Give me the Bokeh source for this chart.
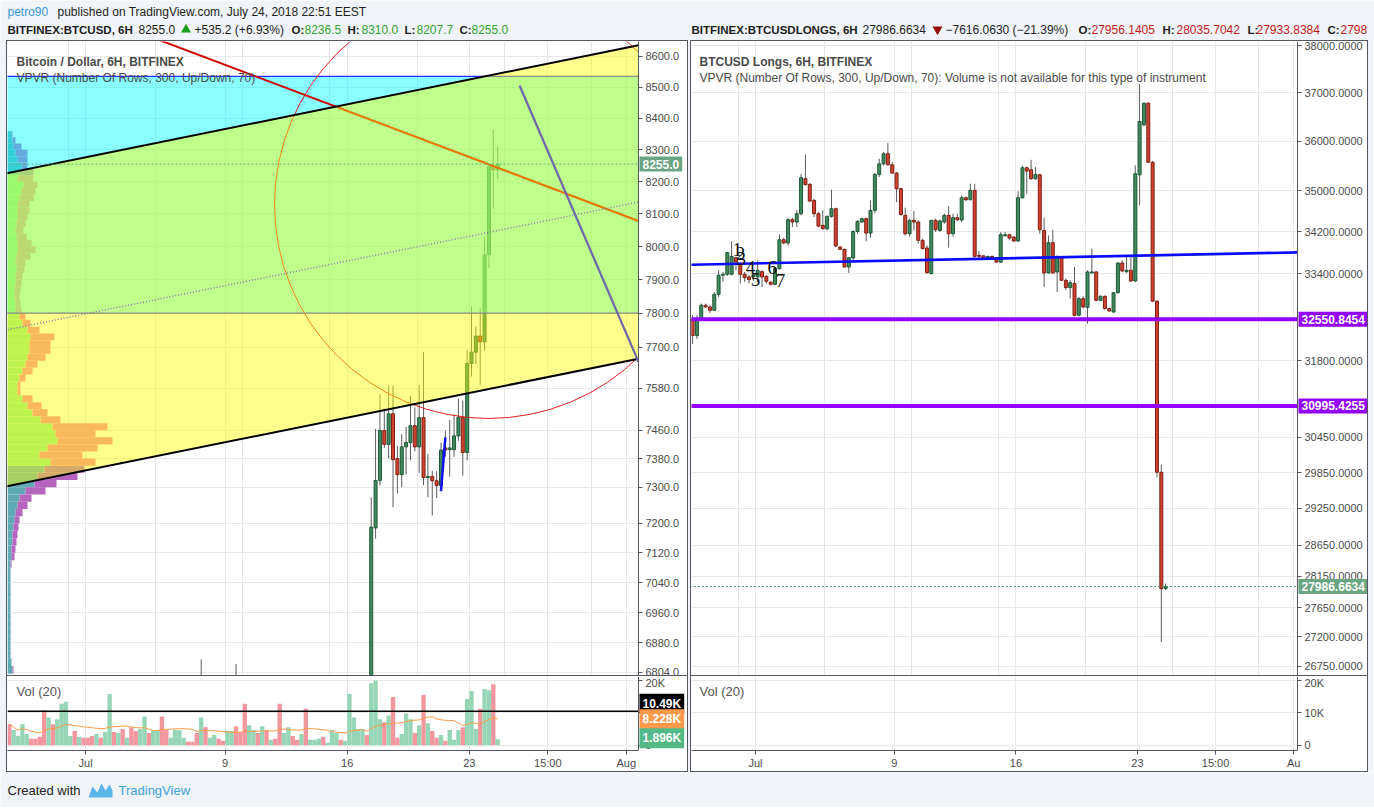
import numpy as np
import pandas as pd
from bokeh.plotting import figure
from bokeh.models import (Range1d, FixedTicker, NumeralTickFormatter, Grid, Label,
                          Spacer, ColumnDataSource)
from bokeh.layouts import row, column
from bokeh.embed import file_html
from bokeh.resources import INLINE
from bokeh.core.properties import value

# ------------------------------------------------------------------ data
time_tick_days = [1, 9, 16, 23, 27.5, 32]
left_time_labels = ["Jul", "9", "16", "23", "15:00", "Aug"]
right_time_labels = ["Jul", "9", "16", "23", "15:00", "Au"]

left_price_ticks = [6804, 6880, 6960, 7040, 7120, 7200, 7300, 7380, 7460, 7580,
                    7700, 7800, 7900, 8000, 8100, 8200, 8300, 8400, 8500, 8600]
right_price_ticks = [26750, 27200, 27650, 28150, 28650, 29250, 29850, 30450,
                     31800, 33400, 34200, 35000, 36000, 37000, 38000]
vol_ticks = [0, 10000, 20000]

# BITFINEX:BTCUSD 6H candles that reach into the visible price range (day 1 = Jul 1)
btc_days = [7.625, 9.625] + [17.375 + 0.25 * i for i in range(30)]
btc_open = [6700, 6760, 6760, 7188, 7319, 7459, 7420, 7507, 7380, 7335, 7413, 7425,
            7473, 7413, 7496, 7327, 7330, 7318, 7305, 7410, 7405, 7405, 7444, 7497,
            7397, 7652, 7685, 7732, 7715, 7975, 8248, 8236.5]
btc_high = [6837, 6825, 7272, 7464, 7562, 7522, 7588, 7588, 7416, 7449, 7470, 7559,
            7525, 7590, 7685, 7393, 7345, 7345, 7425, 7459, 7489, 7505, 7550, 7545,
            7690, 7820, 7760, 7815, 8030, 8250, 8364, 8310.0]
btc_low = [6650, 6690, 6750, 7159, 7305, 7410, 7380, 7245, 7283, 7300, 7335, 7375,
           7400, 7340, 7306, 7272, 7222, 7270, 7295, 7385, 7330, 7385, 7430, 7332,
           7375, 7614, 7650, 7590, 7690, 7935, 8116, 8207.7]
btc_close = [6760, 6720, 7190, 7319, 7459, 7420, 7507, 7377, 7335, 7413, 7425, 7473,
             7413, 7496, 7327, 7330, 7318, 7305, 7404, 7404, 7410, 7444, 7497, 7397,
             7652, 7685, 7732, 7715, 7975, 8248, 8236.5, 8255.0]

# Volume (thousands) of every 6H bar, first bar Jun 26 21:00, and its direction
vol_first_day = -3.375
vol_k = [6.5, 4.7, 2.9, 6.5, 3.5, 2.0, 2.0, 2.6, 10.7, 8.6, 6.5, 8.0, 12.8, 13.4, 2.9,
         4.4, 2.6, 2.3, 2.3, 2.9, 3.5, 2.3, 4.1, 15.8, 4.1, 3.8, 5.0, 2.3, 5.6, 4.4,
         5.0, 8.9, 3.8, 4.4, 4.7, 8.9, 4.7, 2.3, 4.7, 4.7, 2.3, 1.1, 1.1, 3.8, 8.6,
         5.6, 2.3, 3.2, 2.0, 1.4, 4.4, 4.4, 5.9, 4.1, 12.8, 6.2, 4.7, 3.8, 5.9, 4.7,
         1.7, 2.0, 12.8, 3.8, 5.6, 2.9, 1.7, 3.5, 11.3, 1.7, 1.7, 2.0, 2.6, 0.8, 4.7,
         3.8, 1.7, 1.4, 15.8, 8.6, 5.0, 5.0, 3.2, 19.1, 20.0, 8.0, 7.1, 9.2, 14.9, 2.3,
         3.5, 9.8, 8.0, 3.8, 6.2, 15.5, 6.8, 4.4, 2.3, 3.2, 1.4, 4.7, 1.7, 4.7, 5.6,
         14.3, 16.7, 5.0, 11.3, 17.3, 17.0, 18.8, 1.896]
vol_up = [0, 1, 1, 1, 1, 0, 0, 0, 0, 1, 0, 1, 1, 1, 1, 0, 1, 0, 0, 0, 1, 0, 1, 1, 0,
          1, 0, 1, 0, 0, 1, 1, 0, 1, 1, 0, 0, 1, 1, 1, 1, 0, 0, 0, 1, 0, 1, 1, 0, 0,
          1, 1, 0, 0, 0, 1, 1, 0, 1, 0, 1, 0, 0, 1, 1, 0, 0, 1, 0, 1, 1, 1, 0, 1, 1,
          1, 0, 1, 1, 1, 1, 1, 0, 1, 1, 1, 0, 1, 0, 0, 1, 1, 1, 0, 1, 0, 1, 0, 0, 1,
          0, 1, 1, 1, 0, 1, 1, 1, 0, 1, 1, 0, 1]

# Visible-range volume profile: 20 USD rows, up / down volume (relative units)
vpvr_row_low = list(range(6800, 8360, 20))
vpvr_up = [5, 4, 3, 3, 3, 3, 3, 3, 3, 3, 3, 3, 3, 3, 3, 4, 4, 5, 5, 6, 7, 8, 10, 12,
           18, 27, 30, 37, 43, 32, 40, 50, 48, 45, 33, 25, 20, 15, 10, 10, 12, 15, 18,
           20, 22, 22, 23, 20, 15, 12, 8, 8, 7, 7, 8, 8, 9, 8, 9, 10, 10, 9, 8, 9, 10,
           10, 10, 12, 14, 16, 10, 12, 14, 10, 8, 6, 5, 4]
vpvr_down = [1, 0, 0, 0, 0, 0, 0, 0, 0, 0, 0, 0, 0, 0, 1, 3, 4, 4, 5, 5, 5, 7, 10, 12,
             20, 22, 40, 40, 45, 43, 50, 55, 40, 55, 20, 15, 14, 10, 3, 3, 6, 10, 12,
             18, 21, 21, 24, 12, 8, 6, 6, 5, 5, 6, 6, 7, 8, 10, 14, 18, 14, 10, 8, 9,
             10, 12, 12, 14, 14, 14, 16, 14, 6, 10, 12, 8, 3, 1]
vpvr_value_area = (7360, 8220)

# BITFINEX:BTCUSDLONGS 6H candles, first bar Jun 27 09:00
longs_first_day = -2.625
longs_open = [32563, 32250, 32532, 32810, 32779, 32717, 33014, 33371, 33390, 33390,
              33705, 33590, 33390, 33340, 33340, 33340, 33440, 33352, 33240, 33202,
              33496, 34049, 33986, 34436, 34391, 34553, 35243, 35130, 34814, 34553,
              34326, 34261, 34501, 34651, 33908, 33864, 33527, 33700, 34209, 34391,
              34456, 34177, 34619, 35329, 35541, 35744, 35521, 35356, 35045, 34520,
              34164, 34423, 34391, 34037, 33890, 33402, 34423, 34228, 34391, 34521,
              34164, 34475, 34430, 34866, 34827, 35012, 33749, 33740, 33692, 33730,
              33705, 33621, 34125, 34145, 34100, 34024, 34866, 35462, 35422, 35243,
              35322, 34228, 33415, 33992, 33434, 33705, 33276, 33139, 33215, 32625,
              32933, 32771, 33415, 33434, 32902, 32977, 32748, 32686, 33045, 33603,
              33440, 33465, 33264, 35321, 36334, 36781, 35574, 32886, 29855, 27956.1405]
longs_high = [32630, 32625, 32841, 32841, 32810, 33058, 33465, 33434, 33813, 34017,
              33718, 33621, 33434, 33371, 33415, 33654, 33465, 33371, 33258, 33527,
              34151, 34088, 34475, 34475, 34619, 35342, 35730, 35157, 34846, 34586,
              34619, 34520, 35025, 34671, 33921, 33877, 33705, 34228, 34423, 34475,
              34475, 34814, 35356, 35642, 35778, 35960, 35575, 35375, 35065, 34671,
              34456, 34606, 34423, 34068, 33941, 34436, 34456, 34440, 34553, 34697,
              34553, 34553, 34912, 34892, 35144, 35144, 33832, 33750, 33740, 33740,
              33710, 34196, 34196, 34164, 34113, 34996, 35508, 35488, 35622, 35475,
              35342, 34475, 34132, 34241, 33749, 33730, 33308, 33276, 33527, 32964,
              32976, 33465, 33877, 33452, 32995, 32995, 32760, 33058, 33621, 33654,
              33749, 33730, 35508, 37186, 36795, 36800, 35600, 32900, 29986, 28035.7042]
longs_low = [32100, 32193, 32520, 32760, 32668, 32700, 32964, 33246, 33358, 33371,
             33465, 33215, 33246, 33215, 33265, 33246, 33152, 33215, 33180, 33183,
             33477, 33960, 33941, 34293, 34293, 34520, 35110, 34781, 34488, 34293,
             34248, 34228, 34475, 33908, 33850, 33520, 33415, 33654, 34164, 34380,
             34017, 34088, 34567, 35276, 35508, 35508, 35342, 34781, 34520, 34132,
             34113, 34228, 33973, 33877, 33402, 33390, 34196, 34200, 34358, 33896,
             34113, 34410, 34391, 34801, 34814, 33705, 33686, 33680, 33680, 33690,
             33610, 33603, 34113, 34037, 34005, 34005, 34846, 34944, 35223, 35223,
             34164, 33152, 33402, 33402, 33058, 33264, 33089, 32933, 32606, 32606,
             32748, 32470, 33402, 32890, 32890, 32730, 32690, 32668, 33026, 33434,
             33415, 33246, 33240, 34714, 36300, 35574, 32880, 29771, 27120, 27933.8384]
longs_close = [32254, 32532, 32810, 32779, 32717, 33014, 33371, 33390, 33801, 33730,
               33621, 33390, 33327, 33290, 33371, 33465, 33340, 33258, 33202, 33496,
               34049, 33986, 34436, 34391, 34553, 35263, 35124, 34801, 34553, 34313,
               34261, 34501, 34651, 33928, 33864, 33527, 33705, 34209, 34404, 34456,
               34177, 34619, 35329, 35541, 35744, 35521, 35356, 35045, 34534, 34164,
               34423, 34391, 34037, 33877, 33421, 34423, 34241, 34410, 34521, 34164,
               34475, 34436, 34866, 34827, 35012, 33730, 33730, 33692, 33730, 33705,
               33621, 34145, 34145, 34081, 34024, 34866, 35462, 35395, 35243, 35329,
               34241, 33415, 33992, 33415, 33705, 33276, 33139, 33233, 32625, 32933,
               32779, 33434, 33434, 32902, 32977, 32748, 32705, 33045, 33603, 33452,
               33465, 33264, 35342, 36402, 36781, 35574, 32886, 29855, 27952, 27986.6634]

# drawings on the BTCUSD chart: (day, price) anchors
rect_top, rect_bottom = 8535.0, 7800.0
chan_upper = [(-3.48, 8226.5), (32.64, 8636.0)]
chan_lower = [(-3.48, 7303.0), (32.64, 7665.0)]
red_line = [(5.75, 8642.6), (32.64, 8079.6)]
slate_line = [(25.88, 8505.6), (32.64, 7663.7)]
blue_short = [(21.375, 7289.0), (21.625, 7440.0)]
circle_center = (24.10, 8129.0)
circle_diameter_px = 428
btc_last = 8255.0
vol_hline = 10490.0
# drawings on the LONGS chart
longs_blue = [(-2.75, 33570.0), (32.3, 33806.0)]
longs_levels = [32550.8454, 30995.4255]
longs_last = 27986.6634
wave_text = ["1", "2", "3", "4", "5", "6", "7"]
wave_day = [-0.05, 0.14, 0.18, 0.71, 1.0, 1.96, 2.44]
wave_price = [33870, 33790, 33684, 33510, 33300, 33524, 33275]

# ------------------------------------------------------------------ style / geometry
FONT = "Liberation Sans"
BG = "#f0f3f7"
BORDER = "#54575f"
GRID = "#e8e8e8"
AX_TXT = "#4b4b4b"
UP_BODY, UP_LINE = "#3f8b5f", "#1d5636"
DN_BODY, DN_LINE = "#d2432f", "#7d1c12"
WICK = "#5c5c5c"

L_FR = (7, 638, 41, 675)      # chart area of the left price pane (page px)
R_FR = (691, 1297, 41, 675)
LX0, LX1 = -3.48, 32.70
LY0, LY1 = 6795.4, 8649.2
RX0, RX1 = -2.687, 32.22
RY0, RY1 = 26614.0, 38086.0
VY0, VY1 = -1600.0, 21200.0
L_INNER, R_INNER = 680, 676   # chart + price-axis column
LXM = LX0 + (LX1 - LX0) * L_INNER / (L_FR[1] - L_FR[0])
RXM = RX0 + (RX1 - RX0) * R_INNER / (R_FR[1] - R_FR[0])


def px2day(px, fr, x0, x1):
    return x0 + (px - fr[0]) / (fr[1] - fr[0]) * (x1 - x0)


def py2price(py, fr, y0, y1):
    return float(np.exp(np.log(y1) - (py - fr[2]) / (fr[3] - fr[2]) * (np.log(y1) - np.log(y0))))


def py2vol(py):
    return VY1 - (py - 676) / (752 - 676) * (VY1 - VY0)


def loglin(days, a, b):
    (d0, p0), (d1, p1) = a, b
    days = np.asarray(days, dtype=float)
    return np.exp(np.log(p0) + (days - d0) / (d1 - d0) * (np.log(p1) - np.log(p0)))


def style_axis(ax, size="11px"):
    ax.axis_line_color = BORDER
    ax.major_tick_line_color = BORDER
    ax.major_tick_out = 4
    ax.major_tick_in = 0
    ax.minor_tick_line_color = None
    ax.major_label_text_font = FONT
    ax.major_label_text_font_size = size
    ax.major_label_text_color = AX_TXT
    ax.major_label_standoff = 3


def cover(p, x_edge, x_max, y0, y1):
    # blank price-axis column (hides grid / drawing overflow right of the chart)
    p.quad(left=x_edge, right=x_max + 1, bottom=y0, top=y1, fill_color="white", line_color=None)


def main_fig(x0, x1, xm, y0, y1, ticks, fmt, inner_w):
    p = figure(width=inner_w, height=634, x_range=Range1d(x0, xm), y_range=Range1d(y0, y1),
               y_axis_type="log", x_axis_location=None, y_axis_location="right",
               toolbar_location=None, output_backend="svg", min_border_left=0,
               min_border_right=0, min_border_top=0, min_border_bottom=0,
               outline_line_color=None, background_fill_color="white", border_fill_color="white")
    t = FixedTicker(ticks=ticks)
    p.yaxis.ticker = t
    p.ygrid.ticker = t
    p.ygrid.grid_line_color = GRID
    p.yaxis.formatter = NumeralTickFormatter(format=fmt)
    p.yaxis.fixed_location = x1
    style_axis(p.yaxis[0])
    p.add_layout(Grid(dimension=0, ticker=FixedTicker(ticks=time_tick_days), grid_line_color=GRID))
    return p


def vol_fig(xr, x0, x1, inner_w, tlabels, vlabels):
    p = figure(width=inner_w, height=95, x_range=xr, y_range=Range1d(VY0, VY1),
               y_axis_location="right", toolbar_location=None, output_backend="svg",
               min_border_left=0, min_border_right=0, min_border_top=0, min_border_bottom=19,
               outline_line_color=None, background_fill_color="white", border_fill_color="white")
    p.xaxis.ticker = FixedTicker(ticks=time_tick_days)
    p.xaxis.major_label_overrides = {d: s for d, s in zip(time_tick_days, tlabels)}
    p.xaxis.bounds = (x0, x1)
    p.yaxis.ticker = FixedTicker(ticks=vol_ticks)
    p.yaxis.major_label_overrides = {v: s for v, s in zip(vol_ticks, vlabels)}
    p.yaxis.fixed_location = x1
    style_axis(p.xaxis[0])
    style_axis(p.yaxis[0])
    p.xaxis.major_label_standoff = 2
    p.xgrid.grid_line_color = GRID
    p.ygrid.grid_line_color = GRID
    return p


def draw_candles(p, days, o, h, l, c, w):
    o = np.asarray(o, float)
    c = np.asarray(c, float)
    up = c >= o
    src = ColumnDataSource(dict(x=list(days), h=list(h), l=list(l),
                                top=list(np.maximum(o, c)), bot=list(np.minimum(o, c)),
                                fill=[UP_BODY if u else DN_BODY for u in up],
                                line=[UP_LINE if u else DN_LINE for u in up]))
    p.segment(x0="x", y0="h", x1="x", y1="l", source=src, line_color=WICK, line_width=1)
    p.vbar(x="x", width=w, top="top", bottom="bot", source=src, fill_color="fill",
           line_color="line", line_width=1)


def txt_label(p, x, y, text, size="12px", color="#4a4a4a", bold=False, font=FONT):
    p.add_layout(Label(x=x, y=y, text=text, text_font=font, text_font_size=size,
                       text_color=color, text_baseline="middle", text_align="left",
                       text_font_style="bold" if bold else "normal"))


def box_label(p, x, y, text, bg, fg="white"):
    p.add_layout(Label(x=x, y=y, x_offset=1, text=text, text_font=FONT, text_font_size="12px",
                       text_color=fg, text_baseline="middle", text_align="left",
                       text_font_style="bold", background_fill_color=bg,
                       background_fill_alpha=1.0, padding=3))


# ------------------------------------------------------------------ left main chart
pL = main_fig(LX0, LX1, LXM, LY0, LY1, left_price_ticks, "0.0", L_INNER)

k_px = (LX1 - LX0) / (L_FR[1] - L_FR[0])
vp_low = np.array(vpvr_row_low, float)
vp_up = np.array(vpvr_up, float)
vp_dn = np.array(vpvr_down, float)
in_va = (vp_low >= vpvr_value_area[0]) & (vp_low < vpvr_value_area[1])
vp_src = ColumnDataSource(dict(
    y=list(vp_low + 10), x0=[LX0] * len(vp_low), x1=list(LX0 + vp_up * k_px),
    x2=list(LX0 + (vp_up + vp_dn) * k_px),
    cu=["#86ea90" if v else "#5eaab5" for v in in_va],
    cd=["#f57fa3" if v else "#b565be" for v in in_va]))
pL.hbar(y="y", height=20, left="x0", right="x1", fill_color="cu", line_color=None, source=vp_src)
pL.hbar(y="y", height=20, left="x1", right="x2", fill_color="cd", line_color=None, source=vp_src)

draw_candles(pL, btc_days, btc_open, btc_high, btc_low, btc_close, 0.17)

# cyan rectangle, red trend line + circle, then the translucent yellow channel
pL.quad(left=LX0 - 2, right=LX1, bottom=rect_bottom, top=rect_top, fill_color="#00ffff",
        fill_alpha=0.46, line_color="#2b2bff", line_width=1.2)
rl_days = [4.5, LX1]
pL.line(rl_days, loglin(rl_days, *red_line), line_color="#d00000", line_width=2)
pL.scatter([circle_center[0]], [circle_center[1]], marker="circle", size=circle_diameter_px,
           fill_color=None, line_color="#e3231f", line_width=1)
ch_days = [LX0 - 1, LX1]
up_p = loglin(ch_days, *chan_upper)
lo_p = loglin(ch_days, *chan_lower)
pL.varea(x=ch_days, y1=lo_p, y2=up_p, fill_color="#ffff00", fill_alpha=0.45)
pL.line(ch_days, up_p, line_color="black", line_width=2)
pL.line(ch_days, lo_p, line_color="black", line_width=2)
pL.line(ch_days, np.sqrt(up_p * lo_p), line_color="#8a78ad", line_width=1.5, line_dash="1 2")

sl_days = [slate_line[0][0], LX1]
pL.line(sl_days, loglin(sl_days, *slate_line), line_color="#6c67a8", line_width=2.2)
pL.line([blue_short[0][0], blue_short[1][0]], [blue_short[0][1], blue_short[1][1]],
        line_color="#1010ff", line_width=2.5)
pL.line([LX0, LX1], [btc_last, btc_last], line_color="#6aa583", line_width=1, line_dash="2 2")
cover(pL, LX1, LXM, LY0 * 0.9, LY1 * 1.1)

txt_label(pL, px2day(16, L_FR, LX0, LX1), py2price(61, L_FR, LY0, LY1),
          "Bitcoin / Dollar, 6H, BITFINEX", bold=True)
txt_label(pL, px2day(16, L_FR, LX0, LX1), py2price(77, L_FR, LY0, LY1),
          "VPVR (Number Of Rows, 300, Up/Down, 70)")
box_label(pL, LX1, btc_last, "8255.0", "#6aa583")

# ------------------------------------------------------------------ left volume pane
pLV = vol_fig(pL.x_range, LX0, LX1, L_INNER, left_time_labels, ["0", "", "20K"])
v_days = [vol_first_day + 0.25 * i for i in range(len(vol_k))]
v_vals = [v * 1000 for v in vol_k]
v_src = ColumnDataSource(dict(x=v_days, top=v_vals,
                              c=["#96d6b6" if u else "#f3979f" for u in vol_up]))
pLV.vbar(x="x", top="top", bottom=0, width=0.25, fill_color="c", line_color=None, source=v_src)
ma = pd.Series(v_vals).rolling(20, min_periods=1).mean()
pLV.line(v_days, list(ma), line_color="#ff9c45", line_width=1)
pLV.line([LX0, LX1], [vol_hline, vol_hline], line_color="black", line_width=1.5)
cover(pLV, LX1, LXM, VY0, VY1)
txt_label(pLV, px2day(16, L_FR, LX0, LX1), py2vol(691), "Vol (20)", size="13px", color="#555555")
box_label(pLV, LX1, py2vol(704), "10.49K", "#000000")
box_label(pLV, LX1, py2vol(720), "8.228K", "#ff9a4d")
box_label(pLV, LX1, py2vol(739.5), "1.896K", "#53b987")

# ------------------------------------------------------------------ right main chart
pR = main_fig(RX0, RX1, RXM, RY0, RY1, right_price_ticks, "0.0000", R_INNER)
r_days = [longs_first_day + 0.25 * i for i in range(len(longs_open))]
draw_candles(pR, r_days, longs_open, longs_high, longs_low, longs_close, 0.17)
pR.line([longs_blue[0][0], RX1], loglin([longs_blue[0][0], RX1], *longs_blue),
        line_color="#0a0aff", line_width=2.6)
for lv in longs_levels:
    pR.line([RX0 - 1, RX1], [lv, lv], line_color="#9400ff", line_width=4)
pR.line([RX0 - 1, RX1], [longs_last, longs_last], line_color="#4f9c73", line_width=1,
        line_dash="2 2")
pR.text(x=wave_day, y=wave_price, text=wave_text, text_font=value("Liberation Serif"),
        text_font_size="19px", text_color="#111111", text_align="center", text_baseline="middle")
cover(pR, RX1, RXM, RY0 * 0.9, RY1 * 1.1)

txt_label(pR, px2day(699, R_FR, RX0, RX1), py2price(61, R_FR, RY0, RY1),
          "BTCUSD Longs, 6H, BITFINEX", bold=True)
txt_label(pR, px2day(699, R_FR, RX0, RX1), py2price(77, R_FR, RY0, RY1),
          "VPVR (Number Of Rows, 300, Up/Down, 70): Volume is not available for this type of instrument")
box_label(pR, RX1, longs_levels[0], "32550.8454", "#9400ff")
box_label(pR, RX1, longs_levels[1], "30995.4255", "#9400ff")
box_label(pR, RX1, longs_last, "27986.6634", "#6aa583")

pRV = vol_fig(pR.x_range, RX0, RX1, R_INNER, right_time_labels, ["0", "10K", "20K"])
cover(pRV, RX1, RXM, VY0, VY1)
txt_label(pRV, px2day(699, R_FR, RX0, RX1), py2vol(691), "Vol (20)", size="13px", color="#555555")

# ------------------------------------------------------------------ header and footer
W = 1374
hdr = figure(width=W, height=40, x_range=Range1d(0, W), y_range=Range1d(40, 0),
             x_axis_location=None, y_axis_location=None, toolbar_location=None,
             output_backend="svg", min_border=0, outline_line_color=None,
             background_fill_color=BG, border_fill_color=BG)
hdr.grid.visible = False
DARK, GREEN, RED = "#1e1e1e", "#35a535", "#c41a1a"
segs = [
    (7, 11, "petro90", "#3d9ad8", "normal", "12px"),
    (57, 11, "published on TradingView.com, July 24, 2018 22:51 EEST", DARK, "normal", "12px"),
    (7, 29, "BITFINEX:BTCUSD, 6H", DARK, "bold", "11.5px"),
    (138, 29, "8255.0", DARK, "normal", "12px"),
    (194, 29, "+535.2 (+6.93%)", DARK, "normal", "12px"),
    (291, 29, "O:", DARK, "bold", "11.5px"), (304, 29, "8236.5", GREEN, "normal", "12px"),
    (347, 29, "H:", DARK, "bold", "11.5px"), (361, 29, "8310.0", GREEN, "normal", "12px"),
    (404, 29, "L:", DARK, "bold", "11.5px"), (416, 29, "8207.7", GREEN, "normal", "12px"),
    (459, 29, "C:", DARK, "bold", "11.5px"), (471, 29, "8255.0", GREEN, "normal", "12px"),
    (691, 29, "BITFINEX:BTCUSDLONGS, 6H", DARK, "bold", "11.5px"),
    (862, 29, "27986.6634", DARK, "normal", "12px"),
    (945, 29, "\u22127616.0630 (\u221221.39%)", DARK, "normal", "12px"),
    (1078, 29, "O:", DARK, "bold", "11.5px"), (1091, 29, "27956.1405", RED, "normal", "12px"),
    (1162, 29, "H:", DARK, "bold", "11.5px"), (1176, 29, "28035.7042", RED, "normal", "12px"),
    (1247, 29, "L:", DARK, "bold", "11.5px"), (1256, 29, "27933.8384", RED, "normal", "12px"),
    (1327, 29, "C:", DARK, "bold", "11.5px"), (1340, 29, "2798", RED, "normal", "12px"),
]
h_src = ColumnDataSource(dict(x=[s[0] for s in segs], y=[s[1] for s in segs],
                              t=[s[2] for s in segs], c=[s[3] for s in segs],
                              st=[s[4] for s in segs], sz=[s[5] for s in segs]))
hdr.text(x="x", y="y", text="t", text_color="c", text_font_style="st", text_font_size="sz",
         source=h_src, text_font=value(FONT), text_baseline="middle")
hdr.scatter([185.5], [29], marker="triangle", size=10, fill_color="#1f9d1f", line_color=None)
hdr.scatter([937], [29], marker="inverted_triangle", size=10, fill_color="#9a0b0b", line_color=None)

FH = 35
ftr = figure(width=W, height=FH, x_range=Range1d(0, W), y_range=Range1d(772 + FH, 772),
             x_axis_location=None, y_axis_location=None, toolbar_location=None,
             output_backend="svg", min_border=0, outline_line_color=None,
             background_fill_color=BG, border_fill_color=BG)
ftr.grid.visible = False
ftr.text(x=[7], y=[790], text=["Created with"], text_font=value(FONT), text_font_size="13px",
         text_color="#222222", text_baseline="middle")
ftr.text(x=[118], y=[790], text=["TradingView"], text_font=value(FONT), text_font_size="13px",
         text_color="#3ea2dc", text_baseline="middle")
ftr.patch(x=[88, 92, 97, 101, 105, 109, 112, 112, 88], y=[797, 786, 792, 783, 790, 784, 790, 797, 797],
          fill_color="#5ab5e8", line_color=None)

# ------------------------------------------------------------------ layout with panel borders
bs = {"background-color": BORDER}
gs = {"background-color": BG}


def panel(main, vol, inner_w):
    return column(
        Spacer(width=inner_w + 2, height=1, styles=bs),
        row(Spacer(width=1, height=730, styles=bs),
            column(main, Spacer(width=inner_w, height=1, styles=bs), vol),
            Spacer(width=1, height=730, styles=bs)),
        Spacer(width=inner_w + 2, height=1, styles=bs))


middle = row(Spacer(width=6, height=732, styles=gs), panel(pL, pLV, L_INNER),
             Spacer(width=2, height=732, styles=gs), panel(pR, pRV, R_INNER),
             Spacer(width=5, height=732, styles=gs))
page = column(hdr, middle, ftr)

html = file_html(page, INLINE, title="BTCUSD / BTCUSD Longs")
html = html.replace("<body>", '<body style="background-color:#f0f3f7;">', 1)
open("out.html", "w").write(html)
